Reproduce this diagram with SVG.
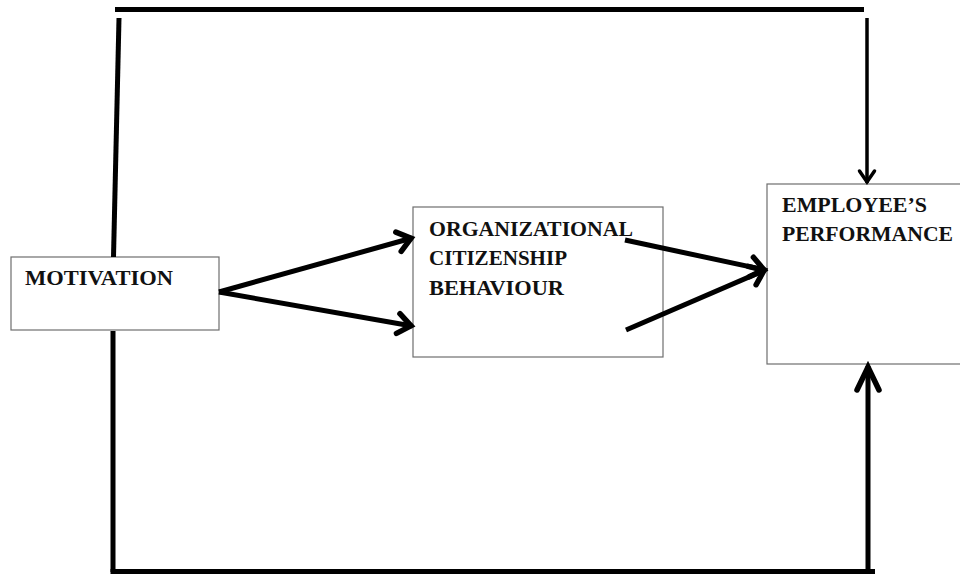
<svg xmlns="http://www.w3.org/2000/svg" width="960" height="574" viewBox="0 0 960 574">
  <style>
    .box { fill: #ffffff; stroke: #6e6e6e; stroke-width: 1.2; }
    .lbl { font-family: "Liberation Serif", "Times New Roman", serif; font-weight: bold; font-size: 20px; fill: #111111; }
    .line { fill: none; stroke: #000000; stroke-width: 5; }
    .arrow { fill: none; stroke: #000000; stroke-width: 5; marker-end: url(#chev); }
  </style>
  <defs>
    <marker id="chev" markerUnits="userSpaceOnUse" viewBox="-20 -14 24 28" markerWidth="24" markerHeight="28" refX="0" refY="0" orient="auto" overflow="visible">
      <path d="M -14 -10 L -1 0 L -14 10" fill="none" stroke="#000" stroke-width="5.5" stroke-linecap="round" stroke-linejoin="miter"/>
    </marker>
    <marker id="chevSmall" markerUnits="userSpaceOnUse" viewBox="-16 -10 18 20" markerWidth="18" markerHeight="20" refX="0" refY="0" orient="auto" overflow="visible">
      <path d="M -12 -7.5 L -1 0 L -12 7.5" fill="none" stroke="#000" stroke-width="3.5" stroke-linecap="round"/>
    </marker>
    <marker id="chevBig" markerUnits="userSpaceOnUse" viewBox="-30 -16 32 32" markerWidth="32" markerHeight="32" refX="0" refY="0" orient="auto" overflow="visible">
      <path d="M -24 -11 L -1 0 L -24 11" fill="none" stroke="#000" stroke-width="5.5" stroke-linecap="round"/>
    </marker>
  </defs>

  <g id="motivation">
    <rect class="box" x="11" y="257" width="208" height="73"/>
    <text class="lbl" x="25" y="285" textLength="148" lengthAdjust="spacingAndGlyphs">MOTIVATION</text>
  </g>

  <g id="ocb">
    <rect class="box" x="413" y="207" width="250" height="150"/>
    <text class="lbl" x="429" y="236" textLength="204" lengthAdjust="spacingAndGlyphs">ORGANIZATIONAL</text>
    <text class="lbl" x="429" y="265" textLength="138" lengthAdjust="spacingAndGlyphs">CITIZENSHIP</text>
    <text class="lbl" x="429" y="295" textLength="135" lengthAdjust="spacingAndGlyphs">BEHAVIOUR</text>
  </g>

  <g id="performance">
    <rect class="box" x="767" y="184" width="200" height="180"/>
    <text class="lbl" x="782" y="212" textLength="145" lengthAdjust="spacingAndGlyphs">EMPLOYEE’S</text>
    <text class="lbl" x="782" y="241" textLength="171" lengthAdjust="spacingAndGlyphs">PERFORMANCE</text>
  </g>

  <g id="connectors">
    <line class="line" x1="115" y1="9.5" x2="864" y2="9.5" stroke-width="6"/>
    <line class="line" x1="119" y1="18" x2="113.5" y2="257"/>
    <line x1="867" y1="18" x2="867" y2="183" stroke="#000" stroke-width="3.5" marker-end="url(#chevSmall)"/>
    <line class="line" x1="113" y1="331" x2="113" y2="572"/>
    <line class="line" x1="110.5" y1="571.5" x2="875" y2="571.5"/>
    <line x1="868" y1="571" x2="868" y2="366" stroke="#000" stroke-width="5" marker-end="url(#chevBig)"/>
    <line class="arrow" x1="219" y1="292" x2="412" y2="238"/>
    <line class="arrow" x1="219" y1="292" x2="412" y2="326"/>
    <line class="arrow" x1="625" y1="240" x2="765" y2="270"/>
    <line class="arrow" x1="626" y1="330" x2="765" y2="270"/>
  </g>
</svg>
